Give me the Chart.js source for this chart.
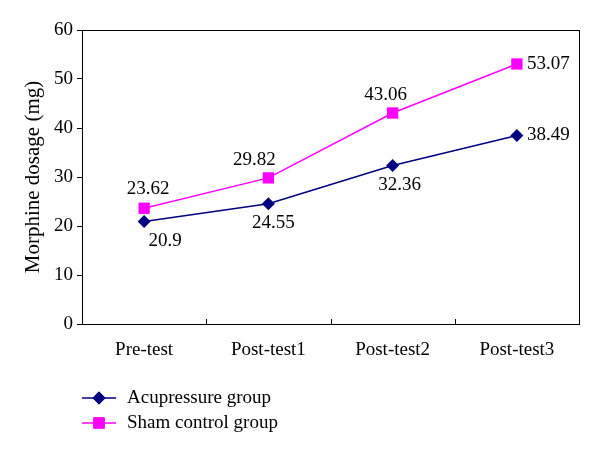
<!DOCTYPE html>
<html>
<head>
<meta charset="utf-8">
<script src="https://cdn.jsdelivr.net/npm/chart.js@4.4.1/dist/chart.umd.min.js"></script>
<style>
  html, body { margin: 0; padding: 0; background: #fff; }
  #wrap { position: relative; width: 600px; height: 454px; }
</style>
</head>
<body>
<div id="wrap"><canvas id="myChart" width="600" height="454"></canvas></div>
<script>
// data
const stages = ['Pre-test', 'Post-test1', 'Post-test2', 'Post-test3'];
const acupressure = [20.9, 24.55, 32.36, 38.49];
const shamControl = [23.62, 29.82, 43.06, 53.07];
const yTicks = [0, 10, 20, 30, 40, 50, 60];

const navy = '#000080';
const magenta = '#ff00ff';
const serif = "'Liberation Serif', 'Times New Roman', serif";

// where each value label sits relative to its point: [dx, dy, align]
const labelSpots = [
    [[21, 19, 'center'], [5, 19, 'center'], [7, 20, 'center'], [10, 0, 'left']],
    [[4, -19, 'center'], [-14, -18, 'center'], [-7, -18, 'center'], [10, 0, 'left']]
];

Chart.defaults.font.family = serif;
Chart.defaults.font.size = 19;
Chart.defaults.color = '#000';

// small line + marker picture for the legend
function legendIcon(color, style, radius) {
    const c = document.createElement('canvas');
    c.width = 34;
    c.height = 16;
    const g = c.getContext('2d');
    g.strokeStyle = color;
    g.lineWidth = 1.5;
    g.beginPath();
    g.moveTo(0, 8);
    g.lineTo(34, 8);
    g.stroke();
    g.fillStyle = color;
    Chart.helpers.drawPoint(g, {pointStyle: style, radius: radius, rotation: 0, borderWidth: 0}, 17, 8);
    g.fill();
    return c;
}

const framePlugin = {
    id: 'frame',
    beforeDatasetsDraw(chart) {
        const {ctx, chartArea: a, scales} = chart;
        ctx.save();
        ctx.strokeStyle = '#000';
        ctx.lineWidth = 1;
        ctx.strokeRect(a.left + 0.5, a.top + 0.5, a.right - a.left, a.bottom - a.top);
        // inner ticks between the categories
        ctx.beginPath();
        for (let i = 0; i < stages.length - 1; i++) {
            const x = Math.round((scales.x.getPixelForValue(i) + scales.x.getPixelForValue(i + 1)) / 2) + 0.5;
            ctx.moveTo(x, a.bottom);
            ctx.lineTo(x, a.bottom - 5);
        }
        ctx.stroke();
        ctx.restore();
    },
    afterDatasetsDraw(chart) {
        const ctx = chart.ctx;
        ctx.save();
        ctx.font = '19px ' + serif;
        ctx.fillStyle = '#000';
        ctx.textBaseline = 'middle';
        chart.data.datasets.forEach((ds, d) => {
            chart.getDatasetMeta(d).data.forEach((pt, i) => {
                const s = labelSpots[d][i];
                ctx.textAlign = s[2];
                ctx.fillText(String(ds.data[i]), pt.x + s[0], pt.y + s[1]);
            });
        });

        // legend, one entry per row
        const a = chart.chartArea;
        chart.data.datasets.forEach((ds, d) => {
            const y = a.bottom + 74 + d * 25;
            ctx.drawImage(ds.legendIcon, a.left, y - 8);
            ctx.textAlign = 'left';
            ctx.fillText(ds.label, a.left + 45, y);
        });
        ctx.restore();
    }
};

new Chart(document.getElementById('myChart'), {
    type: 'line',
    data: {
        labels: stages,
        datasets: [
            {
                label: 'Acupressure group',
                data: acupressure,
                borderColor: navy,
                backgroundColor: navy,
                borderWidth: 1.5,
                pointStyle: 'rectRot',
                pointRadius: 6.5,
                pointHoverRadius: 6.5,
                pointBorderWidth: 0,
                tension: 0,
                legendIcon: legendIcon(navy, 'rectRot', 6.5)
            },
            {
                label: 'Sham control group',
                data: shamControl,
                borderColor: magenta,
                backgroundColor: magenta,
                borderWidth: 1.5,
                pointStyle: 'rect',
                pointRadius: 8,
                pointHoverRadius: 8,
                pointBorderWidth: 0,
                tension: 0,
                legendIcon: legendIcon(magenta, 'rect', 8)
            }
        ]
    },
    options: {
        responsive: false,
        animation: false,
        layout: {padding: {top: 30, right: 21, bottom: 90, left: 13}},
        plugins: {
            legend: {display: false},
            tooltip: {enabled: false}
        },
        scales: {
            x: {
                offset: true,
                grid: {display: false},
                border: {display: false},
                ticks: {padding: 7},
                afterFit(scale) { scale.height = 40; }
            },
            y: {
                min: 0,
                max: 60,
                afterBuildTicks(scale) { scale.ticks = yTicks.map(v => ({value: v})); },
                grid: {drawOnChartArea: false, drawTicks: true, tickLength: 5, color: '#000'},
                border: {display: false},
                ticks: {padding: 4},
                title: {display: true, text: 'Morphine dosage (mg)', font: {size: 21}, padding: {top: 8, bottom: 0}},
                afterFit(scale) { scale.width = 69; }
            }
        }
    },
    plugins: [framePlugin]
});
</script>
</body>
</html>
